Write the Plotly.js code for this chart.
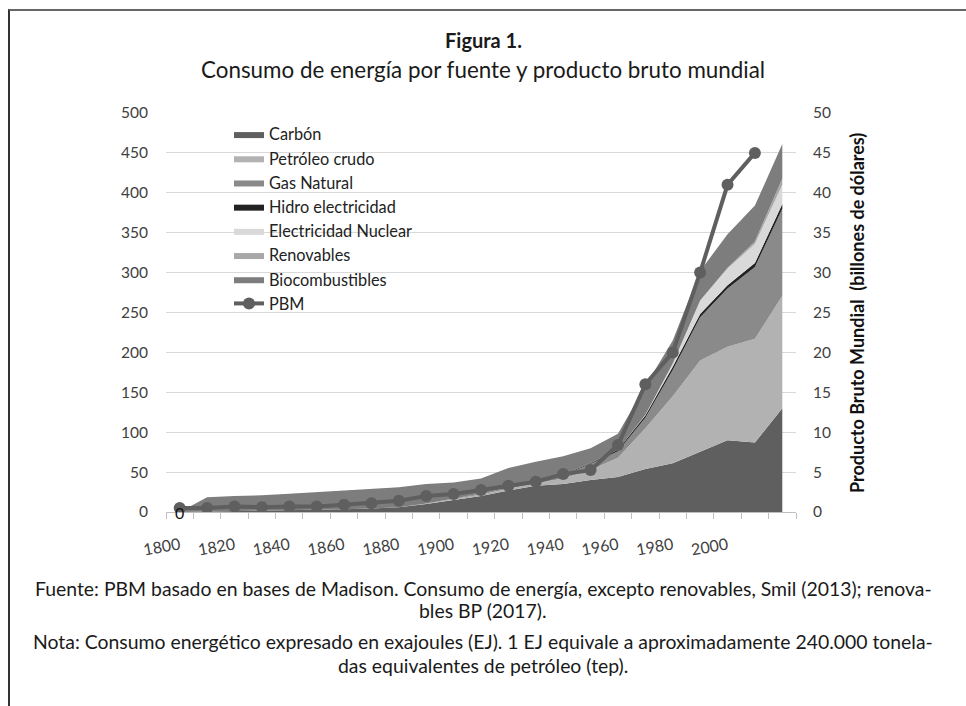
<!DOCTYPE html>
<html>
<head>
<meta charset="utf-8">
<script src="https://cdn.plot.ly/plotly-3.0.1.min.js"></script>
<style>
html,body{margin:0;padding:0;background:#fff;}
#frame{position:absolute;left:8px;top:9px;width:958px;height:697px;border-top:2px solid #666;border-left:2px solid #333;}
#chart{position:absolute;left:0;top:0;width:966px;height:706px;}
</style>
</head>
<body>
<div id="frame"></div>
<div id="chart"></div>
<script>
// Data (EJ for energy sources, trillions USD for PBM)
const years = [1800,1810,1820,1830,1840,1850,1860,1870,1880,1890,1900,1910,1920,1930,1940,1950,1960,1970,1980,1990,2000,2010,2020];
const carbon     = [0,0.5,1,1.5,2,2.5,3.5,4.5,6,10,15,20,27,33,35,40,44,54,61,76,90,87,130];
const petroleo   = [0,0,0,0,0,0,0,0,0,0.5,1,2,2,3,7,13,24,51,84,114,117,130,141];
const gasNatural = [0,0,0,0,0,0,0,0,0,0,0.5,1,1,2,4,7,8,13,33,54,73,90,109];
const hidro      = [0,0,0,0,0,0,0,0,0,0,0,0.3,0.5,1,1,1,2,3,4,4,4,5,6];
const nuclear    = [0,0,0,0,0,0,0,0,0,0,0,0,0,0,0,0,0,1,4,17,21,24,24];
const renovables = [0,0,0,0,0,0,0,0,0,0,0,0,0,0,0,0,0,0,0,0,1,3,8];
const biocomb    = [0,18,19,19.5,21,22.5,23.5,24.5,25,24.5,20.5,18.7,24.5,24,23,19,20,36,29,37,42,45,43];
const pbmYears   = years.slice(0,22);
const pbm        = [0.5,0.5,0.7,0.6,0.7,0.7,0.9,1.1,1.4,2.0,2.25,2.75,3.3,3.8,4.75,5.25,8.4,16,20,30,41,45];
const xTickVals  = [1800,1820,1840,1860,1880,1900,1920,1940,1960,1980,2000];
const xTickText  = ["1800","1820","1840","1860","1880","1900","1920","1940","1960","1980","2000"];

const FONT = "Lato, 'Open Sans', sans-serif";
const CX = (483-166)/630;
function py(pix){ return (512-pix)/399; }

function area(name, y, color){
  return {x: years, y: y, name: name, type:'scatter', mode:'lines',
          stackgroup:'energia', fillcolor: color, line:{width:0, color: color},
          hoverinfo:'skip'};
}
const traces = [
  area('Carbón', carbon, '#5f5f5f'),
  area('Petróleo crudo', petroleo, '#b2b2b2'),
  area('Gas Natural', gasNatural, '#8a8a8a'),
  area('Hidro electricidad', hidro, '#222222'),
  area('Electricidad Nuclear', nuclear, '#d9d9d9'),
  area('Renovables', renovables, '#a8a8a8'),
  area('Biocombustibles', biocomb, '#7d7d7d'),
  {x: pbmYears, y: pbm, name:'PBM', type:'scatter', mode:'lines+markers', yaxis:'y2',
   line:{color:'#5f5f5f', width:4}, marker:{color:'#5f5f5f', size:12}, hoverinfo:'skip'}
];

function note(text, pix, size, bold){
  return {xref:'paper', yref:'paper', x:CX, y:py(pix), xanchor:'center', yanchor:'middle',
          text: bold ? '<b>'+text+'</b>' : text, showarrow:false,
          font:{family:FONT, size:size, color:'#1a1a1a'}};
}

const layout = {
  width:966, height:706,
  margin:{l:166, r:170, t:113, b:194, pad:0},
  paper_bgcolor:'rgba(0,0,0,0)', plot_bgcolor:'rgba(0,0,0,0)',
  font:{family:FONT, color:'#333'},
  showlegend:true,
  legend:{x:(229-166)/630, y:py(117), xanchor:'left', yanchor:'top', traceorder:'normal',
          font:{family:FONT, size:16.3, color:'#222'}, bgcolor:'rgba(0,0,0,0)', itemwidth:30},
  xaxis:{type:'linear', range:[1795,2025], tickmode:'array', tickvals:xTickVals, ticktext:xTickText,
         ticks:'', tickangle:-10, showgrid:false, zeroline:false, showline:true, linecolor:'#bfbfbf', linewidth:1,
         tickfont:{family:FONT, size:16, color:'#404040'}, ticklabelstandoff:17,
         minor:{tick0:1795, dtick:10, ticks:'outside', ticklen:6, tickcolor:'#bfbfbf', showgrid:false}},
  yaxis:{range:[0,500], dtick:50, showgrid:true, gridcolor:'#d9d9d9', gridwidth:1, zeroline:false,
         showline:false, ticks:'', tickfont:{family:FONT, size:15.5, color:'#404040'}, ticklabelstandoff:17},
  yaxis2:{overlaying:'y', side:'right', range:[0,50], dtick:5, showgrid:false, zeroline:false,
          showline:false, ticks:'', tickfont:{family:FONT, size:15.5, color:'#404040'}, ticklabelstandoff:16},
  annotations:[
    note('Figura 1.', 40, 20, true),
    note('Consumo de energía por fuente y producto bruto mundial', 69, 22.4, false),
    {xref:'paper', yref:'paper', x:(857-166)/630, y:py(313), xanchor:'center', yanchor:'middle', textangle:-90,
     text:'<b>Producto Bruto Mundial  (billones de dólares)</b>', showarrow:false,
     font:{family:FONT, size:18, color:'#111'}},
    {xref:'x', yref:'y', x:1800, y:0, text:'0', showarrow:false, font:{family:FONT, size:16, color:'#111'}},
    note('Fuente: PBM basado en bases de Madison. Consumo de energía, excepto renovables, Smil (2013); renova-', 588, 19.4, false),
    note('bles BP (2017).', 610, 19.4, false),
    note('Nota: Consumo energético expresado en exajoules (EJ). 1 EJ equivale a aproximadamente 240.000 tonela-', 641, 19.4, false),
    note('das equivalentes de petróleo (tep).', 665, 19.4, false)
  ]
};

Plotly.newPlot('chart', traces, layout, {displayModeBar:false, staticPlot:true});
</script>
</body>
</html>
